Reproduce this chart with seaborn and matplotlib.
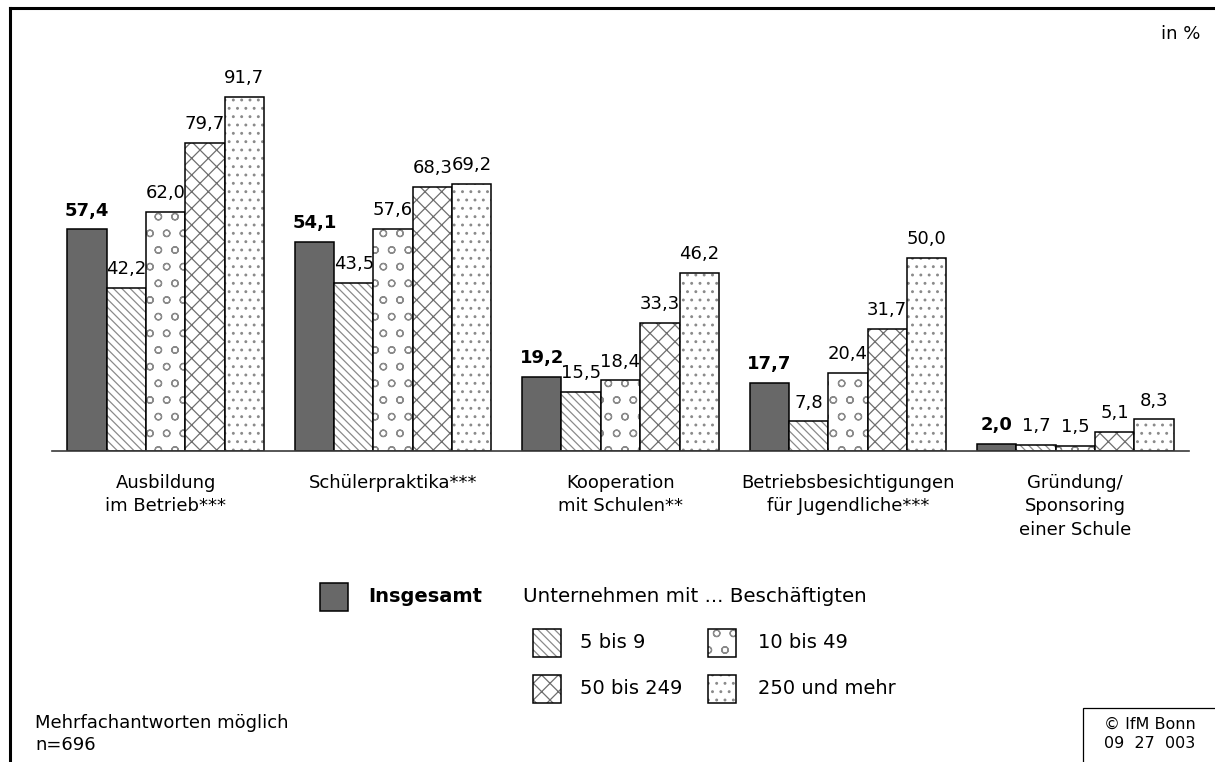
import matplotlib
matplotlib.use("Agg")
import matplotlib.pyplot as plt
import matplotlib.colors as mcolors
from matplotlib.patches import Rectangle
from matplotlib.lines import Line2D
import seaborn as sns
import pandas as pd

# ---- data ----
categories = ["Ausbildung\nim Betrieb***", "Schülerpraktika***", "Kooperation\nmit Schulen**",
              "Betriebsbesichtigungen\nfür Jugendliche***", "Gründung/\nSponsoring\neiner Schule"]
groups = ["Insgesamt", "5 bis 9", "10 bis 49", "50 bis 249", "250 und mehr"]
insgesamt = [57.4, 54.1, 19.2, 17.7, 2.0]
bis_9 = [42.2, 43.5, 15.5, 7.8, 1.7]
bis_49 = [62.0, 57.6, 18.4, 20.4, 1.5]
bis_249 = [79.7, 68.3, 33.3, 31.7, 5.1]
und_mehr = [91.7, 69.2, 46.2, 50.0, 8.3]
series = [insgesamt, bis_9, bis_49, bis_249, und_mehr]

legend_header = "Unternehmen mit ... Beschäftigten"
notes = "Mehrfachantworten möglich\nn=696"
source = "© IfM Bonn\n09  27  003"
unit = "in %"

rows = []
for g, vals in zip(groups, series):
    for c, v in zip(categories, vals):
        rows.append({"cat": c, "grp": g, "val": v})
df = pd.DataFrame(rows)

# ---- styling ----
sns.set_theme(style="white")
plt.rcParams["font.family"] = ["DejaVu Sans"]
plt.rcParams["hatch.linewidth"] = 0.9
plt.rcParams["text.color"] = "black"
plt.rcParams["xtick.color"] = "black"
plt.rcParams["axes.labelcolor"] = "black"

W, H = 1215, 762
fig = plt.figure(figsize=(W / 100, H / 100), dpi=100)

def fx(px):
    return px / W

def fy(py):
    return 1 - py / H

ax = fig.add_axes([fx(52), fy(451.5), 1137 / W, 387 / H])

fills = {"Insgesamt": "#686868", "5 bis 9": "white", "10 bis 49": "white",
         "50 bis 249": "white", "250 und mehr": "white"}
hatches = {"Insgesamt": None, "5 bis 9": "\\\\\\\\", "10 bis 49": "o",
           "50 bis 249": "xx", "250 und mehr": ".."}
hatch_cols = {"5 bis 9": "#8a8a8a", "10 bis 49": "#8a8a8a",
              "50 bis 249": "#6e6e6e", "250 und mehr": "#8a8a8a"}

sns.barplot(data=df, x="cat", y="val", hue="grp", hue_order=groups, order=categories,
            palette=fills, saturation=1, width=0.865, edgecolor="black", linewidth=1.1,
            legend=False, ax=ax)

for g, cont in zip(groups, ax.containers):
    for p in cont.patches:
        p.set_edgecolor("black")
        if hatches[g]:
            p.set_hatch(hatches[g])
            p._hatch_color = mcolors.to_rgba(hatch_cols[g])
    labels = [f"{v:.1f}".replace(".", ",") for v in cont.datavalues]
    ax.bar_label(cont, labels=labels, padding=7, fontsize=13,
                 fontweight="bold" if g == "Insgesamt" else "normal", color="black")

ax.set_xlim(-0.5, 4.5)
ax.set_ylim(0, 100)
ax.set_xlabel("")
ax.set_ylabel("")
ax.set_yticks([])
for s in ["top", "left", "right"]:
    ax.spines[s].set_visible(False)
ax.spines["bottom"].set_color("#3a3a3a")
ax.spines["bottom"].set_linewidth(1.2)
ax.tick_params(axis="x", length=0, pad=16, labelsize=13, colors="black")
for t in ax.get_xticklabels():
    t.set_linespacing(1.4)
ax.patch.set_alpha(0)

# ---- frame (left and top only) ----
fig.add_artist(Line2D([fx(9.5), fx(9.5)], [0, fy(7.5)], color="black", lw=2.2,
                      transform=fig.transFigure, solid_capstyle="projecting"))
fig.add_artist(Line2D([fx(9.5), 1], [fy(7.5), fy(7.5)], color="black", lw=2.2,
                      transform=fig.transFigure, solid_capstyle="projecting"))

fig.text(fx(1200), fy(34), unit, ha="right", va="center", fontsize=13)

# ---- custom legend ----
def legend_box(x0, y0, size, grp):
    r = Rectangle((fx(x0), fy(y0 + size)), size / W, size / H, transform=fig.transFigure,
                  facecolor=fills[grp], edgecolor="black", linewidth=1.1,
                  hatch=hatches[grp])
    if hatches[grp]:
        r._hatch_color = mcolors.to_rgba(hatch_cols[grp])
    fig.add_artist(r)

legend_box(320, 583, 28, "Insgesamt")
fig.text(fx(368), fy(597), "Insgesamt", fontsize=14, fontweight="bold", va="center")
fig.text(fx(523), fy(597), legend_header, fontsize=14.3, va="center")

legend_box(533, 629, 28, "5 bis 9")
fig.text(fx(580), fy(643), "5 bis 9", fontsize=14, va="center")
legend_box(708, 629, 28, "10 bis 49")
fig.text(fx(758), fy(643), "10 bis 49", fontsize=14, va="center")
legend_box(533, 675, 28, "50 bis 249")
fig.text(fx(580), fy(689), "50 bis 249", fontsize=14, va="center")
legend_box(708, 675, 28, "250 und mehr")
fig.text(fx(758), fy(689), "250 und mehr", fontsize=14, va="center")

# ---- notes ----
fig.text(fx(35), fy(734), notes, fontsize=13, va="center", linespacing=1.35)

fig.add_artist(Rectangle((fx(1083), fy(780)), 200 / W, 72 / H, transform=fig.transFigure,
                         facecolor="white", edgecolor="black", linewidth=0.9))
fig.text(fx(1150), fy(734), source, fontsize=11.5, ha="center", va="center",
         linespacing=1.3)

fig.savefig("out.png", dpi=100)
